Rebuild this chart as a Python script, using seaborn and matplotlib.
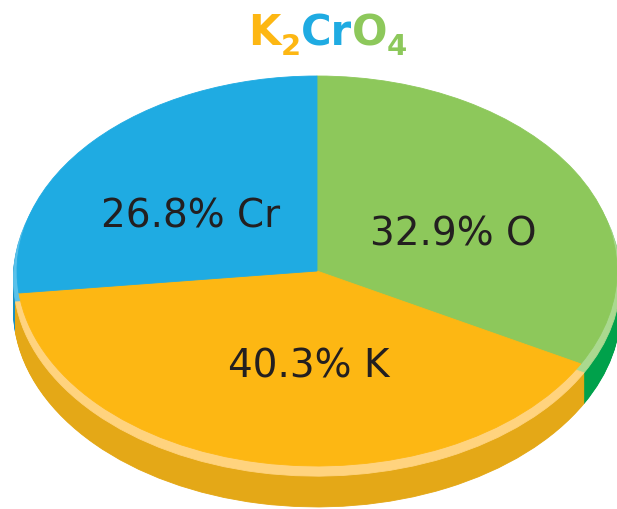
import numpy as np
import pandas as pd
import matplotlib.pyplot as plt
import seaborn as sns

# composition of K2CrO4 (mass percent)
elements = ["O", "K", "Cr"]
percents = [32.9, 40.3, 26.8]

top_colors = ["#8DC85B", "#FDB713", "#1FABE2"]
rim_colors = ["#AAD98F", "#FFD37E", "#5AC1EA"]
side_colors = ["#00A14B", "#E4A817", "#1790C4"]

title_parts = ["K", "2", "Cr", "O", "4"]
title_colors = ["#FDB713", "#FDB713", "#1FABE2", "#8DC85B", "#8DC85B"]

df = pd.DataFrame({"element": elements, "percent": percents})
df["label"] = df["percent"].map("{:.1f}%".format) + " " + df["element"]

sns.set_style("white")

W, H = 617, 509
CX, CY = 317, 271      # pie centre in pixels (from top-left)
RX, RY = 300, 195      # pixels per data unit

fig = plt.figure(figsize=(W / 100, H / 100), dpi=100)
ax = fig.add_axes([0, 0, 1, 1])


def layer(colors, dy, r):
    wedges, _ = ax.pie(df["percent"], colors=colors, startangle=90,
                       counterclock=False, radius=r, center=(0, -dy))
    for w in wedges:
        w.set_edgecolor(w.get_facecolor())
        w.set_linewidth(0.6)


# side of the disc
for dy in np.linspace(0.198, 0.045, 34):
    layer(side_colors, dy, 1.012)
# light bevel along the rim
layer(rim_colors, 0.04, 1.012)
# top face
layer(top_colors, 0.0, 1.0)

label_px = [(453, 246), (309, 377), (191, 227)]   # centre x, baseline y
for lab, (px, py) in zip(df["label"], label_px):
    ax.text((px - CX) / RX, (CY - py) / RY, lab, ha="center", va="baseline",
            fontsize=28, family="DejaVu Sans", color="#231F20")

ax.set_aspect("auto")
ax.set_xlim(-CX / RX, (W - CX) / RX)
ax.set_ylim(-(H - CY) / RY, CY / RY)
ax.axis("off")

# coloured formula on top
renderer = fig.canvas.get_renderer()
x = 248
for part, col in zip(title_parts, title_colors):
    sub = part.isdigit()
    t = fig.text(x / W, (H - (55 if sub else 45)) / H, part, color=col,
                 fontsize=21 if sub else 30, fontweight="bold",
                 family="DejaVu Sans", ha="left", va="baseline")
    x = t.get_window_extent(renderer).x1

fig.savefig("out.png", dpi=100)
